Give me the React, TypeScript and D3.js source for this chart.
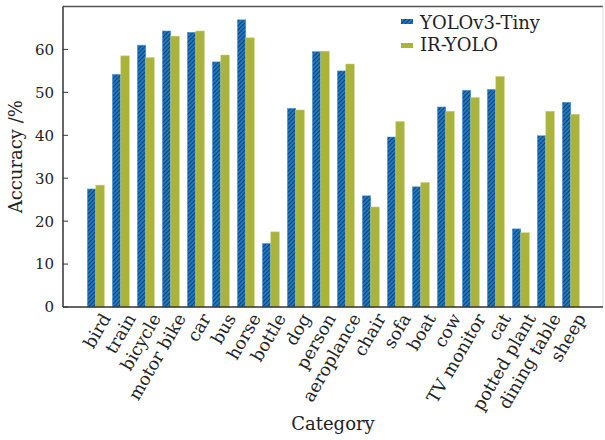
import React from "react";
import * as d3 from "d3";

const categories = ["bird","train","bicycle","motor bike","car","bus","horse","bottle","dog","person","aeroplance","chair","sofa","boat","cow","TV monitor","cat","potted plant","dining table","sheep"];
const yoloTiny = [27.5,54.2,61.0,64.3,64.0,57.1,66.9,14.8,46.3,59.5,55.0,25.9,39.6,28.0,46.6,50.5,50.7,18.2,39.9,47.7];
const irYolo = [28.4,58.5,58.1,63.1,64.3,58.7,62.7,17.5,45.9,59.6,56.6,23.3,43.2,29.0,45.6,48.8,53.7,17.3,45.6,44.9];
const yTicks = [0,10,20,30,40,50,60];
const seriesNames = ["YOLOv3-Tiny","IR-YOLO"];

const W = 605, H = 440;
const left = 63, right = 603, top = 6.5, bottom = 307;
const FONT = "DejaVu Serif";
const BLUE = "#1f78c4";
const GREEN = "#aab43c";

export default function App() {
  const x = d3.scaleBand<string>().domain(categories).range([83.3, 583.3]).paddingInner(0.32).paddingOuter(0.16);
  const y = d3.scaleLinear().domain([0, 70]).range([bottom, top]);
  const bw = x.bandwidth() / 2;
  return (
    <svg width={W} height={H} style={{ position: "absolute", left: 0, top: 0, background: "#fff" }} fontFamily={FONT}>
      <defs>
        <pattern id="hatch" patternUnits="userSpaceOnUse" width={3} height={3} patternTransform="rotate(45)">
          <rect width={3} height={3} fill={BLUE} />
          <line x1={0} y1={0} x2={0} y2={3} stroke="#0b2440" strokeWidth={1.3} />
        </pattern>
      </defs>
      {categories.map((c, i) => (
        <g key={c}>
          <rect x={x(c)!} y={y(yoloTiny[i])} width={bw} height={y(0) - y(yoloTiny[i])} fill="url(#hatch)" stroke="#5aa0dc" strokeWidth={0.5} />
          <rect x={x(c)! + bw} y={y(irYolo[i])} width={bw} height={y(0) - y(irYolo[i])} fill={GREEN} stroke="#c8d070" strokeWidth={0.5} />
        </g>
      ))}
      <line x1={left} x2={right} y1={top} y2={top} stroke="#555" strokeWidth={1.5} />
      <line x1={right} x2={right} y1={top} y2={bottom} stroke="#ddd" strokeWidth={1} />
      <line x1={left} x2={left} y1={top} y2={bottom} stroke="#333" strokeWidth={1.5} />
      <line x1={left} x2={right} y1={bottom} y2={bottom} stroke="#333" strokeWidth={1.5} />
      {yTicks.map((t) => (
        <g key={t}>
          <line x1={left} x2={left + 5} y1={y(t)} y2={y(t)} stroke="#333" strokeWidth={1} />
          <text x={left - 9} y={y(t)} dy="0.36em" textAnchor="end" fontSize={15} fill="#222">{t}</text>
        </g>
      ))}
      {categories.map((c) => {
        const cx = x(c)! + x.bandwidth() / 2;
        return (
          <text key={c} transform={`translate(${cx + 5},${bottom + 5}) rotate(-60)`} textAnchor="end" dy="0.7em" fontSize={17.5} fill="#222">{c}</text>
        );
      })}
      <text transform={`translate(22,${(top + bottom) / 2}) rotate(-90)`} textAnchor="middle" fontSize={18} fill="#222">Accuracy /%</text>
      <text x={(left + right) / 2} y={430} textAnchor="middle" fontSize={18} fill="#222">Category</text>
      <rect x={401} y={19} width={12} height={5} fill="url(#hatch)" />
      <text x={420} y={28.5} fontSize={18} fill="#222">{seriesNames[0]}</text>
      <rect x={401} y={43} width={12} height={5} fill={GREEN} />
      <text x={420} y={51} fontSize={18} fill="#222">{seriesNames[1]}</text>
    </svg>
  );
}
